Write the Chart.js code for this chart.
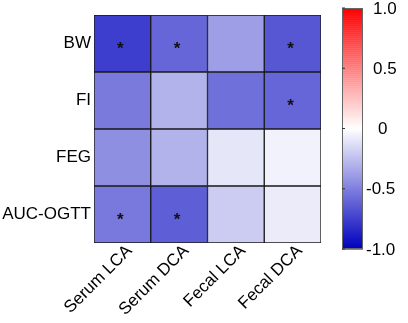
<!DOCTYPE html>
<html>
<head>
<meta charset="utf-8">
<script src="https://cdn.jsdelivr.net/npm/chart.js@4.4.1/dist/chart.umd.min.js"></script>
<style>
html,body{margin:0;padding:0;background:#fff;}
#wrap{width:408px;height:323px;position:relative;}
</style>
</head>
<body>
<div id="wrap"><canvas id="c" width="408" height="323"></canvas></div>
<script>
// Columns (x categories)
const columns = ["Serum LCA", "Serum DCA", "Fecal LCA", "Fecal DCA"];
// Rows, top to bottom
const rows = ["BW", "FI", "FEG", "AUC-OGTT"];
// Correlation values per row (same order as rows), per column
const valBW      = [-0.76, -0.60, -0.38, -0.66];
const valFI      = [-0.52, -0.30, -0.56, -0.60];
const valFEG     = [-0.44, -0.30, -0.10, -0.05];
const valAUCOGTT = [-0.53, -0.63, -0.20, -0.08];
// Significance flags (asterisks)
const sigBW      = [true, true, false, true];
const sigFI      = [false, false, false, true];
const sigFEG     = [false, false, false, false];
const sigAUCOGTT = [true, true, false, false];
// Colour bar ticks
const colorbarTicks = [1.0, 0.5, 0, -0.5, -1.0];
const colorbarLabels = ["1.0", "0.5", "0", "-0.5", "-1.0"];

const rowValues = [valBW, valFI, valFEG, valAUCOGTT];
const rowSig = [sigBW, sigFI, sigFEG, sigAUCOGTT];

function colorFor(v) {
  if (v < 0) {
    const t = Math.min(1, -v);
    const rg = Math.round(255 * (1 - t));
    const b = Math.round(255 - 65 * t);
    return `rgb(${rg},${rg},${b})`;
  } else {
    const t = Math.min(1, v);
    const gb = Math.round(255 * (1 - t));
    return `rgb(255,${gb},${gb})`;
  }
}

const FONT = "'Liberation Sans', Arial, sans-serif";

// bottom-most row first in the stack
const datasets = [];
for (let r = rows.length - 1; r >= 0; r--) {
  datasets.push({
    label: rows[r],
    data: columns.map(() => 1),
    values: rowValues[r],
    sig: rowSig[r],
    backgroundColor: rowValues[r].map(colorFor),
    borderColor: '#1a1a1a',
    borderWidth: 1,
    borderSkipped: false,
    barPercentage: 1,
    categoryPercentage: 1
  });
}

const starPlugin = {
  id: 'stars',
  afterDatasetsDraw(chart) {
    const ctx = chart.ctx;
    ctx.save();
    ctx.fillStyle = '#111';
    ctx.font = `bold 17px ${FONT}`;
    ctx.textAlign = 'center';
    ctx.textBaseline = 'middle';
    chart.data.datasets.forEach((ds, di) => {
      const meta = chart.getDatasetMeta(di);
      meta.data.forEach((el, i) => {
        if (ds.sig[i]) {
          const cy = (el.y + el.base) / 2;
          ctx.fillText('*', el.x - 2, cy + 6);
        }
      });
    });
    ctx.restore();
  }
};

const colorbarPlugin = {
  id: 'colorbar',
  afterDraw(chart) {
    const ctx = chart.ctx;
    const x0 = 342, x1 = 363, yTop = 8, yBot = 249;
    const valToY = v => yTop + (1 - v) / 2 * (yBot - yTop);
    ctx.save();
    const steps = 120;
    for (let s = 0; s < steps; s++) {
      const v = 1 - 2 * s / steps;
      const ya = valToY(v), yb = valToY(1 - 2 * (s + 1) / steps);
      ctx.fillStyle = colorFor(v - 1 / steps);
      ctx.fillRect(x0, ya, x1 - x0, yb - ya + 0.5);
    }
    ctx.strokeStyle = '#666';
    ctx.lineWidth = 1;
    ctx.strokeRect(x0 + 0.5, yTop + 0.5, x1 - x0 - 1, yBot - yTop - 1);
    ctx.fillStyle = '#000';
    ctx.font = `17px ${FONT}`;
    ctx.textAlign = 'left';
    ctx.textBaseline = 'middle';
    colorbarTicks.forEach((v, i) => {
      const y = valToY(v);
      ctx.strokeStyle = '#333';
      ctx.beginPath();
      ctx.moveTo(x0, y);
      ctx.lineTo(x0 + 3, y);
      ctx.stroke();
      const lbl = colorbarLabels[i];
      const xoff = lbl.startsWith('-') ? 366 : 373;
      ctx.fillText(lbl, lbl === '0' ? 378 : xoff, y + 1);
    });
    ctx.restore();
  }
};

new Chart(document.getElementById('c'), {
  type: 'bar',
  data: { labels: columns, datasets },
  options: {
    responsive: false,
    animation: false,
    devicePixelRatio: 1,
    layout: { padding: { left: 0, right: 87, top: 15, bottom: 0 } },
    plugins: { legend: { display: false }, tooltip: { enabled: false } },
    scales: {
      x: {
        stacked: true,
        grid: { display: false, drawTicks: false },
        border: { display: false },
        ticks: {
          color: '#000',
          font: { family: FONT, size: 17 },
          minRotation: 45,
          maxRotation: 45,
          padding: -2,
          labelOffset: 7
        },
        afterFit(s) { s.height = 80; }
      },
      y: {
        stacked: true,
        min: 0,
        max: 4,
        grid: { display: false, drawTicks: false },
        border: { display: false },
        afterBuildTicks(s) {
          s.ticks = [0.5, 1.5, 2.5, 3.5].map(v => ({ value: v }));
        },
        ticks: {
          color: '#000',
          font: { family: FONT, size: 17 },
          padding: 3,
          callback: (v) => rows[rows.length - 1 - Math.floor(v)]
        },
        afterFit(s) { s.width = 94; }
      }
    }
  },
  plugins: [starPlugin, colorbarPlugin]
});
</script>
</body>
</html>
